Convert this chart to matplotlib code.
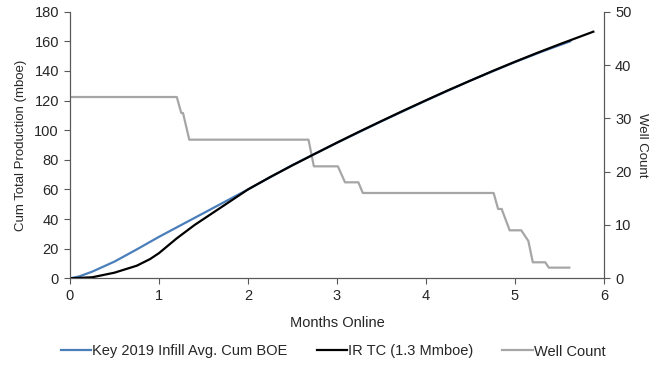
import matplotlib
matplotlib.use("Agg")
import matplotlib.pyplot as plt

plt.rcParams['font.family'] = ['Liberation Sans', 'DejaVu Sans']

# Key 2019 Infill Avg. Cum BOE (mboe)
blue_months = [0, 0.1, 0.25, 0.5, 0.75, 1.0, 1.25, 1.5, 1.75, 2.0, 2.5, 3.0,
               3.5, 4.0, 4.5, 5.0, 5.3, 5.62]
blue_cum = [0, 1.2, 4.5, 11.3, 19.5, 28, 36, 44, 52, 60, 76.5, 91.5,
            106, 120, 133.5, 146, 153, 160]

# IR TC (1.3 Mmboe)
tc_months = [0, 0.25, 0.5, 0.75, 0.9, 1.0, 1.1, 1.2, 1.4, 1.6, 1.8, 2.0,
             2.25, 2.5, 2.75, 3.0, 3.25, 3.5, 3.75, 4.0, 4.25, 4.5, 4.75,
             5.0, 5.25, 5.5, 5.88]
tc_cum = [0, 0.7, 3.8, 8.5, 13, 17, 22, 27, 36, 44, 52, 60,
          68.4, 76.3, 84, 91.6, 99, 106.2, 113.3, 120.2, 127, 133.5, 140,
          146.2, 152.2, 158, 166.5]

# Well Count (right axis)
well_months = [0, 1.2, 1.25, 1.27, 1.34, 2.68, 2.74, 3.01, 3.09, 3.24, 3.29,
               4.76, 4.81, 4.85, 4.94, 5.07, 5.15, 5.2, 5.34, 5.38, 5.61]
well_count = [34, 34, 31, 31, 26, 26, 21, 21, 18, 18, 16,
              16, 13, 13, 9, 9, 7, 3, 3, 2, 2]

text_col = '#262626'
spine_col = '#595959'

fig = plt.figure(figsize=(6.64, 3.70), dpi=100)
ax = fig.add_axes([70 / 664, 1 - 278.3 / 370, 534 / 664, 266.6 / 370])
ax2 = ax.twinx()

l3, = ax2.plot(well_months, well_count, color='#a6a6a6', lw=1.6,
               label='Well Count')
l1, = ax.plot(blue_months, blue_cum, color='#4a7ebb', lw=1.6,
              label='Key 2019 Infill Avg. Cum BOE')
l2, = ax.plot(tc_months, tc_cum, color='black', lw=1.6,
              label='IR TC (1.3 Mmboe)')
ax.set_zorder(ax2.get_zorder() + 1)
ax.patch.set_visible(False)

ax.set_xlim(0, 6)
ax.set_ylim(0, 180)
ax2.set_ylim(0, 50)
ax.set_xticks(range(0, 7))
ax.set_yticks(range(0, 181, 20))
ax2.set_yticks(range(0, 51, 10))

for a in (ax, ax2):
    a.spines['top'].set_visible(False)
    for s in ('left', 'right', 'bottom'):
        a.spines[s].set_color(spine_col)
    a.tick_params(colors=spine_col, labelcolor=text_col, labelsize=10.5,
                  length=4, width=0.8, pad=4)

ax.set_xlabel('Months Online', fontsize=10.5, color=text_col, labelpad=9)
ax.set_ylabel('Cum Total Production (mboe)', fontsize=9.5, color=text_col,
              labelpad=5)
ax2.set_ylabel('Well Count', fontsize=9.5, color=text_col, rotation=270,
               labelpad=12)

fig.legend(handles=[l1, l2, l3], loc='center', bbox_to_anchor=(333 / 664, 0.05),
           ncol=3, frameon=False, fontsize=10.5, handlelength=2.1,
           handletextpad=0.05, columnspacing=2.0, labelcolor=text_col)

fig.savefig('out.png', dpi=100)
